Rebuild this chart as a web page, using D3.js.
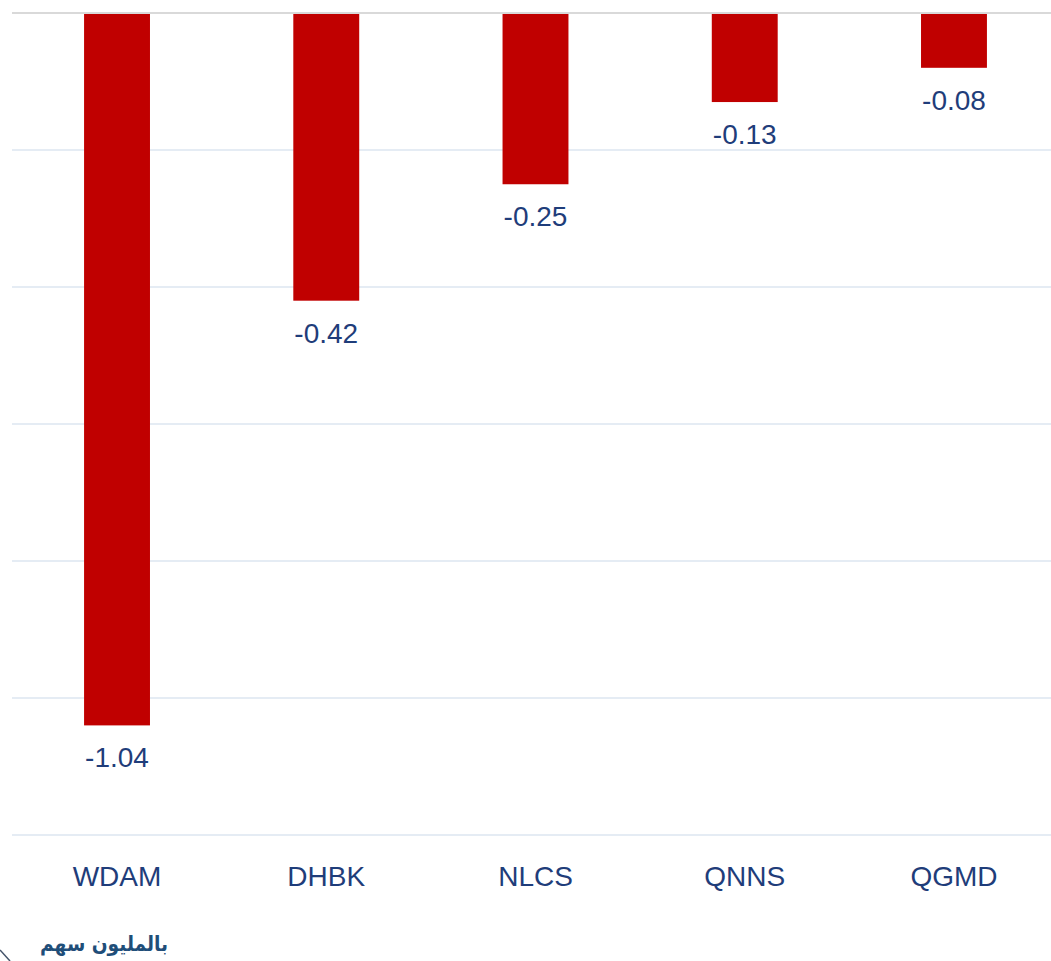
<!DOCTYPE html>
<html><head><meta charset="utf-8">
<script src="https://cdn.jsdelivr.net/npm/d3@7"></script>
<style>html,body{margin:0;padding:0;background:#fff;overflow:hidden}</style>
</head><body>
<svg id="c" width="1051" height="961"></svg>
<script>
const categories = ["WDAM","DHBK","NLCS","QNNS","QGMD"];
const values = [-1.04,-0.42,-0.25,-0.13,-0.08];
const tickValues = [0,-0.2,-0.4,-0.6,-0.8,-1.0,-1.2];
const unitLabel = "بالمليون سهم";

const svg = d3.select("#c");
const x = d3.scaleBand().domain(categories).range([12.4, 1058.6]).paddingInner(0.685).paddingOuter(0.3425);
const y = d3.scaleLinear().domain([0,-1.2]).range([13, 835]);
const textColor = "#1f3d7a";

// gridlines
svg.append("g").selectAll("line").data(tickValues.filter(d=>d!==0)).join("line")
  .attr("x1",12).attr("x2",1051).attr("y1",d=>y(d)).attr("y2",d=>y(d))
  .attr("stroke","#dce6f1").attr("stroke-width",1.5);

// bars
svg.append("g").selectAll("rect").data(values).join("rect")
  .attr("x",(d,i)=>x(categories[i])).attr("width",x.bandwidth())
  .attr("y",y(0)).attr("height",d=>y(d)-y(0))
  .attr("fill","#c00000");

// zero line
svg.append("line").attr("x1",12).attr("x2",1051).attr("y1",y(0)).attr("y2",y(0))
  .attr("stroke","#d9d9d9").attr("stroke-width",2);

// value labels
svg.append("g").selectAll("text").data(values).join("text")
  .attr("x",(d,i)=>x(categories[i])+x.bandwidth()/2)
  .attr("y",d=>y(d)+42)
  .attr("text-anchor","middle")
  .attr("font-family","'Liberation Sans', Arial, sans-serif")
  .attr("font-size",28).attr("fill",textColor)
  .text(d=>d.toFixed(2));

// category axis labels
const xAxis = d3.axisBottom(x).tickSize(0).tickPadding(0);
const ax = svg.append("g").attr("transform","translate(0,866)").call(xAxis);
ax.select(".domain").remove();
ax.selectAll("text").attr("dy","0.71em").attr("font-family","'Liberation Sans', Arial, sans-serif")
  .attr("font-size",28).attr("fill",textColor);

// unit label
svg.append("text").attr("x",168).attr("y",951).attr("text-anchor","start")
  .attr("font-family","'DejaVu Sans', sans-serif").attr("font-weight","bold")
  .attr("font-size",21).attr("fill","#1f4e79").attr("direction","rtl")
  .attr("textLength",128).attr("lengthAdjust","spacingAndGlyphs")
  .text(unitLabel);

// decorative corner stroke
svg.append("path").attr("d","M0,950 L10,961").attr("stroke","#44546a").attr("stroke-width",1.5).attr("fill","none");
</script>
</body></html>
